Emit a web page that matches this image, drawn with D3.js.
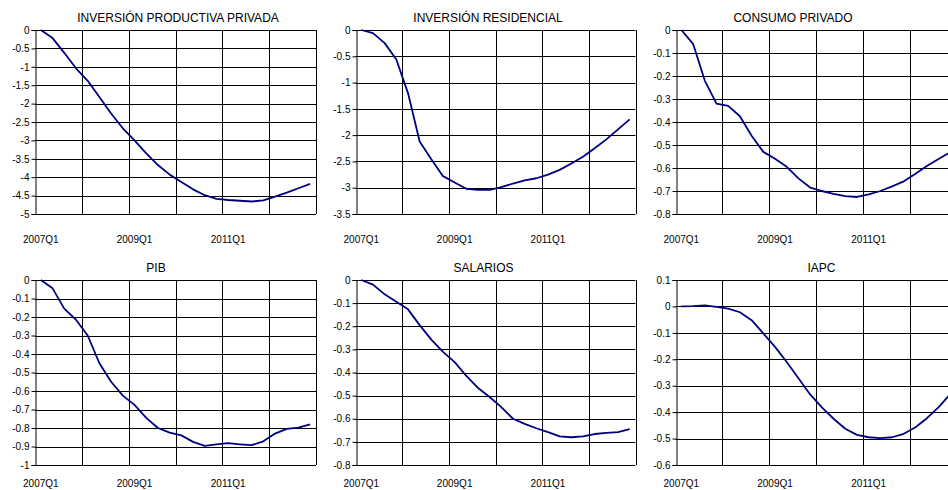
<!DOCTYPE html>
<html>
<head>
<meta charset="utf-8">
<script src="https://cdn.jsdelivr.net/npm/d3@7"></script>
<style>
  body { margin: 0; background: #fff; }
  svg { display: block; font-family: "Liberation Sans", Arial, sans-serif; }
</style>
</head>
<body>
<div id="chart"></div>
<script>
// quarters on the category axis
const quarters = ["2007Q1","2007Q2","2007Q3","2007Q4","2008Q1","2008Q2","2008Q3","2008Q4",
                  "2009Q1","2009Q2","2009Q3","2009Q4","2010Q1","2010Q2","2010Q3","2010Q4",
                  "2011Q1","2011Q2","2011Q3","2011Q4","2012Q1","2012Q2","2012Q3","2012Q4"];
const xLabels = ["2007Q1", "2009Q1", "2011Q1"];

const titles = ["INVERSIÓN PRODUCTIVA PRIVADA", "INVERSIÓN RESIDENCIAL", "CONSUMO PRIVADO",
                "PIB", "SALARIOS", "IAPC"];

const inversionProductiva = [0, -0.22, -0.62, -1.04, -1.38, -1.82, -2.27, -2.67, -3.0, -3.35, -3.67, -3.93,
                             -4.13, -4.33, -4.49, -4.59, -4.62, -4.64, -4.66, -4.63, -4.53, -4.42, -4.30, -4.18];
const inversionResidencial = [0, -0.06, -0.25, -0.56, -1.2, -2.12, -2.46, -2.78, -2.9, -3.02, -3.04, -3.04,
                              -2.99, -2.92, -2.86, -2.82, -2.75, -2.66, -2.54, -2.41, -2.25, -2.08, -1.89, -1.70];
const consumoPrivado = [0, -0.06, -0.22, -0.32, -0.33, -0.375, -0.46, -0.53, -0.56, -0.595, -0.645, -0.685,
                        -0.70, -0.712, -0.722, -0.726, -0.715, -0.70, -0.68, -0.658, -0.625, -0.59, -0.56, -0.53];
const pib = [0, -0.045, -0.155, -0.215, -0.3, -0.45, -0.55, -0.625, -0.675, -0.745, -0.8, -0.825,
             -0.84, -0.875, -0.897, -0.888, -0.882, -0.888, -0.893, -0.872, -0.83, -0.805, -0.798, -0.78];
const salarios = [0, -0.02, -0.062, -0.094, -0.127, -0.195, -0.258, -0.311, -0.355, -0.415, -0.467, -0.506,
                  -0.55, -0.6, -0.622, -0.641, -0.658, -0.676, -0.68, -0.676, -0.666, -0.661, -0.658, -0.645];
const iapc = [0, 0.001, 0.004, -0.002, -0.008, -0.022, -0.052, -0.102, -0.153, -0.21, -0.272, -0.333,
              -0.382, -0.425, -0.463, -0.486, -0.495, -0.498, -0.495, -0.482, -0.457, -0.422, -0.38, -0.33];

// y axis ranges [min, max, step]
const yRanges = [[-5, 0, 0.5], [-3.5, 0, 0.5], [-0.8, 0, 0.1], [-1, 0, 0.1], [-0.8, 0, 0.1], [-0.6, 0.1, 0.1]];
const series = [inversionProductiva, inversionResidencial, consumoPrivado, pib, salarios, iapc];

function drawCharts() {
    const W = 948, H = 490;
    const colLeft = [35, 355.5, 675.5];
    const colWidth = [281, 280, 281];
    const rowTop = [30, 280];
    const rowBottom = [214, 465];
    const labelY = [243, 486.5];
    const titleX = [178, 488, 793, 156, 483.5, 821.5];
    const titleY = [22, 272];

    const svg = d3.select("#chart")
                .append("svg")
                .attr("width", W)
                .attr("height", H);

    series.forEach((values, k) => {
        let row = Math.floor(k / 3), col = k % 3;
        let left = colLeft[col], right = colLeft[col] + colWidth[col];
        let top = rowTop[row], bottom = rowBottom[row];
        let [yMin, yMax, step] = yRanges[k];

        let xScale = d3.scaleBand()
                        .domain(quarters)
                        .range([left, right]);
        let yScale = d3.scaleLinear()
                        .domain([yMin, yMax])
                        .range([bottom, top]);
        let nTicks = Math.round((yMax - yMin) / step);
        let yTicks = d3.range(nTicks + 1).map(i => Math.round((yMin + i * step) * 10) / 10);

        const g = svg.append("g");

        // horizontal gridlines
        g.selectAll(".hgrid")
            .data(yTicks)
            .enter()
            .append("line")
            .attr("x1", left)
            .attr("x2", right)
            .attr("y1", d => Math.round(yScale(d)) + 0.5)
            .attr("y2", d => Math.round(yScale(d)) + 0.5)
            .attr("stroke", "#000")
            .attr("stroke-width", 1);

        // vertical gridlines every year, plus right border
        let vIdx = [4, 8, 12, 16, 20, 24];
        g.selectAll(".vgrid")
            .data(vIdx)
            .enter()
            .append("line")
            .attr("x1", i => Math.round(i < 24 ? xScale(quarters[i]) : right) + 0.5)
            .attr("x2", i => Math.round(i < 24 ? xScale(quarters[i]) : right) + 0.5)
            .attr("y1", top)
            .attr("y2", bottom)
            .attr("stroke", "#000")
            .attr("stroke-width", 1);

        // y axis
        let yAxis = g.append("g")
            .attr("transform", `translate(${Math.round(left) + 0.5},0)`)
            .call(d3.axisLeft(yScale)
                    .tickValues(yTicks)
                    .tickSize(4)
                    .tickPadding(2)
                    .tickFormat(d => String(d)));
        yAxis.select(".domain").attr("stroke", "#000");
        yAxis.selectAll("line").attr("stroke", "#000");
        yAxis.selectAll("text")
            .attr("fill", "#000")
            .attr("font-family", "'Liberation Sans', Arial, sans-serif")
            .attr("font-size", "10px");

        // x labels
        g.selectAll(".xlab")
            .data(xLabels)
            .enter()
            .append("text")
            .attr("x", d => xScale(d) + xScale.bandwidth() / 2)
            .attr("y", labelY[row])
            .attr("text-anchor", "middle")
            .attr("font-size", "10px")
            .attr("fill", "#000")
            .text(d => d);

        // line
        let line = d3.line()
                     .x((d, i) => xScale(quarters[i]) + xScale.bandwidth() / 2)
                     .y(d => yScale(d));
        g.append("path")
            .datum(values)
            .attr("d", line)
            .attr("fill", "none")
            .attr("stroke", "#000080")
            .attr("stroke-width", 1.8)
            .attr("stroke-linejoin", "round");

        // title
        g.append("text")
            .attr("x", titleX[k])
            .attr("y", titleY[row])
            .attr("text-anchor", "middle")
            .attr("font-size", "12px")
            .attr("fill", "#000")
            .text(titles[k]);
    });
}

drawCharts();
</script>
</body>
</html>
